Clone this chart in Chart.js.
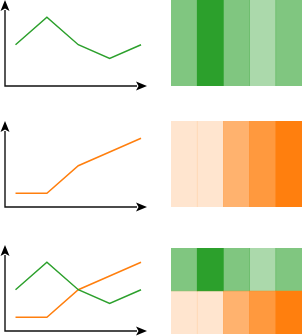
<!DOCTYPE html>
<html>
<head>
<meta charset="utf-8">
<script src="https://cdn.jsdelivr.net/npm/chart.js@4/dist/chart.umd.min.js"></script>
<style>
  html, body { margin: 0; padding: 0; background: #fff; }
  #wrap { position: relative; width: 302px; height: 336px; overflow: hidden; background: #fff; }
  canvas { position: absolute; }
</style>
</head>
<body>
<div id="wrap"></div>
<script>
// ---- data ----
const categories = ['1', '2', '3', '4', '5'];
const greenValues = [3, 5, 3, 2, 3];
const orangeValues = [1, 1, 3, 4, 5];
const seriesColors = { green: '#2ca02c', orange: '#ff7f0e' };
const maxValue = 5;

// ---- layout (positions / sizes only) ----
const rows = [
  { series: ['green'],           lineTop: 0,   heatTop: 0,   heatH: 86 },
  { series: ['orange'],          lineTop: 121, heatTop: 121, heatH: 86 },
  { series: ['green', 'orange'], lineTop: 245, heatTop: 248, heatH: 86 }
];
const seriesData = { green: greenValues, orange: orangeValues };

function hexToRgb(h) {
  const n = parseInt(h.slice(1), 16);
  return [(n >> 16) & 255, (n >> 8) & 255, n & 255];
}
function shade(hex, v) {
  const [r, g, b] = hexToRgb(hex);
  return `rgba(${r},${g},${b},${v / maxValue})`;
}

const axesPlugin = {
  id: 'arrowAxes',
  beforeDatasetsDraw(chart) {
    const { ctx, chartArea: a } = chart;
    const L = 11, W = 4.5;
    ctx.save();
    ctx.strokeStyle = '#111';
    ctx.fillStyle = '#000';
    ctx.lineWidth = 1.4;
    ctx.beginPath();
    ctx.moveTo(a.left, a.top + L - 1);
    ctx.lineTo(a.left, a.bottom);
    ctx.lineTo(a.right - L + 1, a.bottom);
    ctx.stroke();
    // y arrow head
    ctx.beginPath();
    ctx.moveTo(a.left, a.top);
    ctx.lineTo(a.left - W, a.top + L);
    ctx.lineTo(a.left, a.top + L - 2.5);
    ctx.lineTo(a.left + W, a.top + L);
    ctx.closePath();
    ctx.fill();
    // x arrow head
    ctx.beginPath();
    ctx.moveTo(a.right, a.bottom);
    ctx.lineTo(a.right - L, a.bottom - W);
    ctx.lineTo(a.right - L + 2.5, a.bottom);
    ctx.lineTo(a.right - L, a.bottom + W);
    ctx.closePath();
    ctx.fill();
    ctx.restore();
  }
};

const wrap = document.getElementById('wrap');
function makeCanvas(left, top, w, h) {
  const c = document.createElement('canvas');
  c.width = w; c.height = h;
  c.style.left = left + 'px'; c.style.top = top + 'px';
  c.style.width = w + 'px'; c.style.height = h + 'px';
  wrap.appendChild(c);
  return c;
}

const common = {
  responsive: false,
  animation: false,
  devicePixelRatio: 1,
  events: [],
  plugins: { legend: { display: false }, tooltip: { enabled: false } }
};

rows.forEach(row => {
  // line chart
  const padTop = 2, padBottom = 8, plotH = 86;
  const lc = makeCanvas(0, row.lineTop - padTop, 151, plotH + padTop + padBottom);
  new Chart(lc, {
    type: 'line',
    data: {
      datasets: row.series.map(s => ({
        data: seriesData[s].map((v, i) => ({ x: i, y: v })),
        borderColor: seriesColors[s],
        borderWidth: 1.5,
        pointRadius: 0,
        tension: 0,
        fill: false,
        clip: false
      }))
    },
    options: Object.assign({}, common, {
      layout: { padding: { left: 5, right: 4, top: padTop, bottom: padBottom } },
      scales: {
        x: { type: 'linear', display: false, min: -0.335, max: 4.19 },
        y: { type: 'linear', display: false, min: 0, max: 6.25 }
      }
    }),
    plugins: [axesPlugin]
  });

  // heatmap (stacked bars; bottom row first)
  const hc = makeCanvas(171, row.heatTop, 131, row.heatH);
  const heatSeries = row.series.slice().reverse();
  new Chart(hc, {
    type: 'bar',
    data: {
      labels: categories,
      datasets: heatSeries.map(s => ({
        data: categories.map(() => 1),
        backgroundColor: seriesData[s].map(v => shade(seriesColors[s], v)),
        borderWidth: 0,
        barPercentage: 1,
        categoryPercentage: 1
      }))
    },
    options: Object.assign({}, common, {
      layout: { padding: 0 },
      scales: {
        x: { display: false, stacked: true, offset: true },
        y: { display: false, stacked: true, min: 0, max: row.series.length }
      }
    })
  });
});
</script>
</body>
</html>
